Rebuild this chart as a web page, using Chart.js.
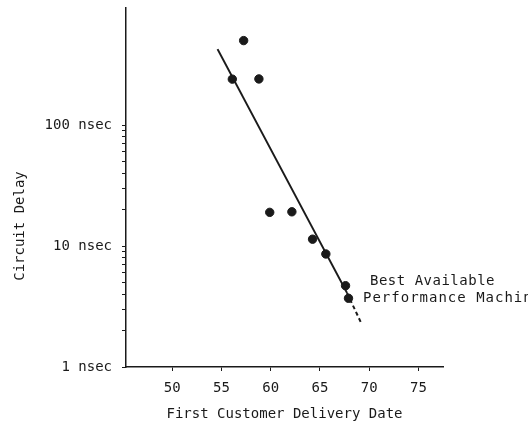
<!DOCTYPE html>
<html>
<head>
<meta charset="utf-8">
<script src="https://cdn.jsdelivr.net/npm/chart.js@4/dist/chart.umd.min.js"></script>
<style>
  html, body { margin: 0; padding: 0; background: #fff; }
  #wrap { width: 528px; height: 425px; }
</style>
</head>
<body>
<div id="wrap"><canvas id="delayChart"></canvas></div>
<script>
    // machines: first customer delivery year vs circuit delay (nsec)
    const deliveryYear = [56.1, 57.25, 58.8, 59.9, 62.15, 64.25, 65.6, 67.6, 67.9];
    const circuitDelay = [240, 500, 241, 19, 19.2, 11.4, 8.6, 4.7, 3.7];

    // trend line, solid part and dashed extrapolation
    const trendYear = [54.6, 67.75];
    const trendDelay = [425, 4.1];
    const trendExtYear = [67.75, 69.2];
    const trendExtDelay = [4.1, 2.3];

    const xTicks = [50, 55, 60, 65, 70, 75];
    const yMajor = [1, 10, 100];
    const yTickLabels = ["1 nsec", "10 nsec", "100 nsec"];

    const ink = "#1a1a1a";
    const fontFamily = '"DejaVu Sans Mono", monospace';
    const yMax = 930;

    function toPoints(xs, ys) {
        return xs.map((x, i) => ({ x: x, y: ys[i] }));
    }

    // minor ticks between the labelled decades, plus an unmarked one at the top
    const yTickValues = [];
    for (let d = 0; d < yMajor.length - 1; d++) {
        for (let m = 1; m < 10; m++) yTickValues.push(yMajor[d] * m);
    }
    yTickValues.push(yMajor[yMajor.length - 1], yMax);

    const textPlugin = {
        id: "texts",
        afterDraw(chart) {
            const ctx = chart.ctx;
            ctx.save();
            ctx.fillStyle = ink;
            ctx.font = "14px " + fontFamily;
            ctx.textBaseline = "middle";
            ctx.textAlign = "left";
            ctx.letterSpacing = "0.5px";
            ctx.fillText("Best Available", 370, 281);
            ctx.letterSpacing = "1px";
            ctx.fillText("Performance Machines", 363, 298);
            ctx.letterSpacing = "0px";
            ctx.translate(20, 226);
            ctx.rotate(-Math.PI / 2);
            ctx.textAlign = "center";
            ctx.fillText("Circuit Delay", 0, 0);
            ctx.restore();
        }
    };

    Chart.defaults.font.family = fontFamily;
    Chart.defaults.font.size = 14;
    Chart.defaults.color = ink;

    new Chart("delayChart", {
        type: "scatter",
        data: {
            datasets: [{
                data: toPoints(deliveryYear, circuitDelay),
                backgroundColor: ink,
                borderColor: ink,
                pointRadius: 4.2
            }, {
                data: toPoints(trendYear, trendDelay),
                showLine: true,
                borderColor: ink,
                borderWidth: 2,
                pointRadius: 0
            }, {
                data: toPoints(trendExtYear, trendExtDelay),
                showLine: true,
                borderColor: ink,
                borderWidth: 2,
                borderDash: [4, 3],
                pointRadius: 0
            }]
        },
        options: {
            responsive: true,
            maintainAspectRatio: false,
            animation: false,
            layout: { padding: { top: 8, right: 85, left: 0, bottom: 0 } },
            plugins: {
                legend: { display: false },
                tooltip: { enabled: false }
            },
            scales: {
                x: {
                    type: "linear",
                    min: 45.3,
                    max: 77.5,
                    afterBuildTicks: (scale) => { scale.ticks = xTicks.map(v => ({ value: v })); },
                    afterFit: (scale) => { scale.height = 58; },
                    grid: { drawOnChartArea: false, tickLength: 4, color: ink },
                    border: { color: ink, width: 1.5 },
                    ticks: { padding: 9, autoSkip: false, maxRotation: 0 },
                    title: {
                        display: true,
                        text: "First Customer Delivery Date",
                        padding: { top: 0, bottom: 2 }
                    }
                },
                y: {
                    type: "logarithmic",
                    min: 1,
                    max: yMax,
                    afterBuildTicks: (scale) => { scale.ticks = yTickValues.map(v => ({ value: v })); },
                    afterFit: (scale) => {
                        scale.width = 126;
                        scale.paddingTop = 0;
                        scale.paddingBottom = 0;
                    },
                    grid: {
                        drawOnChartArea: false,
                        tickLength: 4,
                        color: (c) => (c.tick && c.tick.value > 100 ? "rgba(0,0,0,0)" : ink)
                    },
                    border: { color: ink, width: 1.5 },
                    ticks: {
                        padding: 10,
                        autoSkip: false,
                        font: { size: 14, lineHeight: 0.4 },
                        callback: (v) => {
                            const i = yMajor.indexOf(v);
                            return i >= 0 ? yTickLabels[i] : "";
                        }
                    }
                }
            }
        },
        plugins: [textPlugin]
    });
</script>
</body>
</html>
